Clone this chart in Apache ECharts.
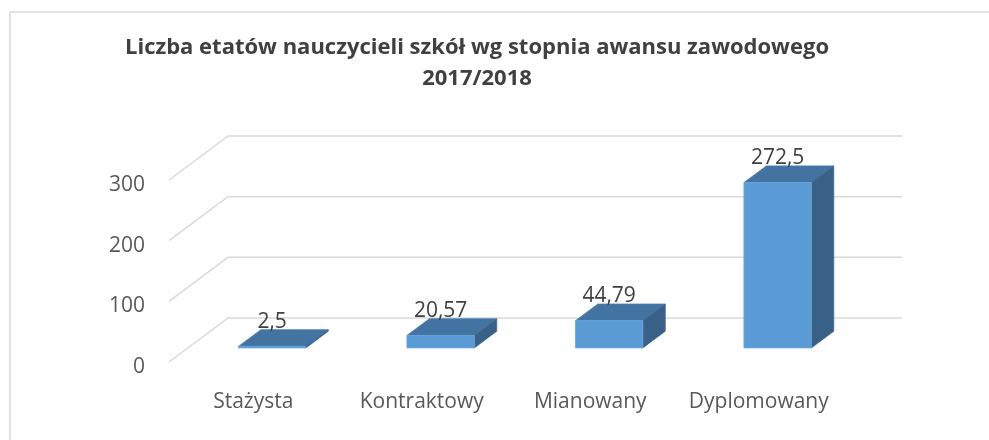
<!DOCTYPE html>
<html lang="pl">
<head>
<meta charset="utf-8">
<title>Liczba etatów nauczycieli</title>
<script src="https://cdn.jsdelivr.net/npm/echarts@6/dist/echarts.min.js"></script>
<style>
  html, body { margin: 0; padding: 0; background: #fff; }
  #chart { width: 989px; height: 440px; }
</style>
</head>
<body>
<div id="chart"></div>
<script>
// data
const categories = ['Stażysta', 'Kontraktowy', 'Mianowany', 'Dyplomowany'];
const values = [2.5, 20.57, 44.79, 272.5];
const yTicks = [0, 100, 200, 300];

// 3d look: floor depth offset in px, bar sits between these depth fractions
const DX = 59, DY = 44;
const D_FRONT = 0.32, D_BACK = 0.70;
const FONT = '"Open Sans", sans-serif';

const chart = echarts.init(document.getElementById('chart'));

function fmt(v) { return String(v).replace('.', ','); }

function shift(p, d) { return [p[0] + DX * d, p[1] - DY * d]; }

function renderGrid(params, api) {
  const cs = params.coordSys;
  const y = api.coord([0, api.value(1)])[1];
  const L = cs.x, R = cs.x + cs.width;
  return {
    type: 'polyline',
    shape: { points: [[L, y], [L + DX, y - DY], [R + DX, y - DY]] },
    style: { stroke: '#d9d9d9', lineWidth: 1.5, fill: null },
    silent: true
  };
}

function renderBar(params, api) {
  const idx = api.value(0);
  const v = api.value(1);
  const top = api.coord([idx, v]);
  const base = api.coord([idx, 0]);
  const band = api.size([1, 0])[0];
  const w = band / 2.5;
  const x0 = top[0] - w / 2, x1 = top[0] + w / 2;
  // front face corners
  const fTL = shift([x0, top[1]], D_FRONT), fTR = shift([x1, top[1]], D_FRONT);
  const fBL = shift([x0, base[1]], D_FRONT), fBR = shift([x1, base[1]], D_FRONT);
  const bTL = shift([x0, top[1]], D_BACK), bTR = shift([x1, top[1]], D_BACK);
  const bBR = shift([x1, base[1]], D_BACK);
  const labelX = (fTL[0] + fTR[0]) / 2;
  return {
    type: 'group',
    children: [
      {
        type: 'polygon',
        shape: { points: [fTL, bTL, bTR, fTR] },
        style: { fill: '#4374a1', stroke: '#4a7db0', lineWidth: 0.8 }
      },
      {
        type: 'polygon',
        shape: { points: [fTR, bTR, bBR, fBR] },
        style: { fill: '#396087', stroke: '#3d6892', lineWidth: 0.8 }
      },
      {
        type: 'rect',
        shape: { x: fTL[0], y: fTL[1], width: w, height: fBL[1] - fTL[1] },
        style: { fill: '#5b9bd5', stroke: '#6aa6dc', lineWidth: 0.8 }
      },
      {
        type: 'text',
        style: {
          text: fmt(v),
          x: labelX,
          y: bTL[1] - 8,
          align: 'center',
          verticalAlign: 'middle',
          fill: '#404040',
          font: '21px ' + FONT
        }
      }
    ]
  };
}

chart.setOption({
  animation: false,
  backgroundColor: '#fff',
  graphic: [{
    type: 'rect',
    shape: { x: 10, y: 12, width: 1000, height: 460 },
    style: { fill: null, stroke: '#d9d9d9', lineWidth: 1.5 },
    silent: true
  }],
  title: {
    text: 'Liczba etatów nauczycieli szkół wg stopnia awansu zawodowego\n2017/2018',
    left: 472,
    top: 27,
    textAlign: 'center',
    textStyle: {
      fontFamily: FONT,
      fontWeight: 'bold',
      fontSize: 22,
      color: '#404040',
      lineHeight: 31
    }
  },
  grid: { left: 169, right: 146, top: 180, bottom: 78 },
  xAxis: {
    type: 'category',
    data: categories,
    axisLine: { show: false },
    axisTick: { show: false },
    axisLabel: { color: '#595959', fontSize: 21, fontFamily: FONT, margin: 30, interval: 0 }
  },
  yAxis: {
    type: 'value',
    min: 0,
    max: 300,
    interval: 100,
    axisLine: { show: false },
    axisTick: { show: false },
    splitLine: { show: false },
    axisLabel: {
      margin: 24,
      formatter: v => '{a|' + v + '}',
      rich: {
        a: { color: '#595959', fontSize: 21, fontFamily: FONT, padding: [10, 0, 0, 0] }
      }
    }
  },
  series: [
    {
      type: 'custom',
      renderItem: renderGrid,
      data: yTicks.map(v => [0, v]),
      encode: { x: 0, y: 1 },
      silent: true,
      z: 1
    },
    {
      type: 'custom',
      renderItem: renderBar,
      data: values.map((v, i) => [i, v]),
      encode: { x: 0, y: 1 },
      z: 2
    }
  ]
});
</script>
</body>
</html>
